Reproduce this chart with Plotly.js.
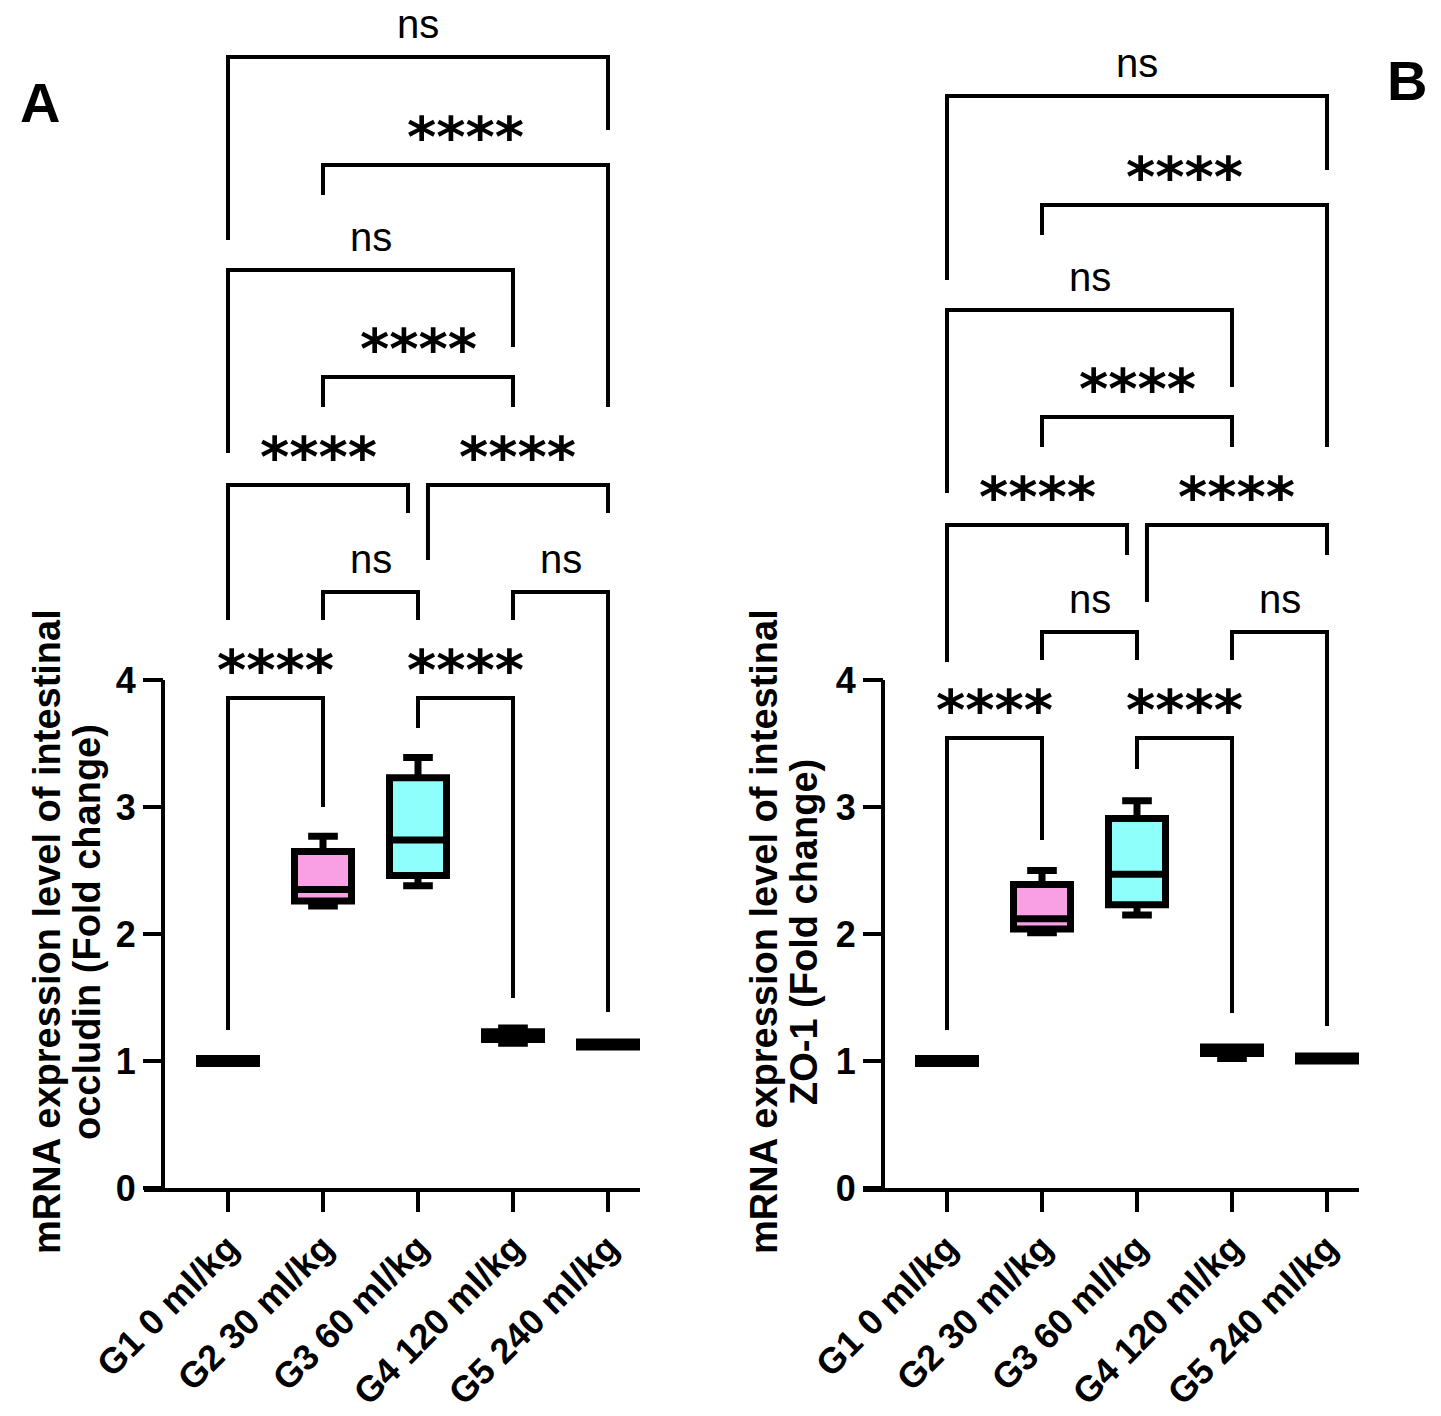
<!DOCTYPE html>
<html>
<head>
<meta charset="utf-8">
<script src="https://cdn.plot.ly/plotly-3.0.1.min.js"></script>
<style>html,body{margin:0;padding:0;background:#fff;}</style>
</head>
<body>
<div id="chart" style="width:1441px;height:1416px;"></div>
<script>
// ---------- data ----------
const groups = ["G1 0 ml/kg", "G2 30 ml/kg", "G3 60 ml/kg", "G4 120 ml/kg", "G5 240 ml/kg"];
const groupColors = ["#000000", "#f9a0e4", "#8ffffb", "#000000", "#000000"];

// Panel A: occludin (fold change) — box statistics per group
const occMin    = [0.98, 2.22, 2.38, 1.14, 1.11];
const occQ1     = [0.98, 2.26, 2.46, 1.17, 1.11];
const occMedian = [1.00, 2.35, 2.74, 1.20, 1.13];
const occQ3     = [1.02, 2.65, 3.23, 1.23, 1.15];
const occMax    = [1.02, 2.77, 3.39, 1.26, 1.15];

// Panel B: ZO-1 (fold change)
const zoMin    = [0.98, 2.01, 2.15, 1.02, 1.00];
const zoQ1     = [0.98, 2.04, 2.23, 1.06, 1.00];
const zoMedian = [1.00, 2.12, 2.47, 1.08, 1.02];
const zoQ3     = [1.02, 2.39, 2.91, 1.11, 1.04];
const zoMax    = [1.02, 2.50, 3.05, 1.11, 1.04];

const yTicks = [0, 1, 2, 3, 4];

// Multiple comparisons: [group a, group b, label]
const comparisons = [
  [0, 1, "****"], [2, 3, "****"], [1, 2, "ns"], [3, 4, "ns"],
  [0, 2, "****"], [2, 4, "****"], [1, 3, "****"], [0, 3, "ns"],
  [1, 4, "****"], [0, 4, "ns"]
];
// bracket geometry (y units): [bar height, left leg end, right leg end, left x shift, right x shift]
const bracketsA = [
  [3.858, 1.244, 3.000, 0, 0], [3.858, 3.622, 1.496, 0, 0],
  [4.693, 4.472, 4.472, 0, 0], [4.693, 4.472, 1.386, 0, 0],
  [5.535, 4.472, 5.315, 0, -0.105], [5.535, 4.945, 5.315, 0.105, 0],
  [6.386, 6.150, 6.150, 0, 0], [7.228, 5.787, 6.622, 0, 0],
  [8.055, 7.819, 6.150, 0, 0], [8.906, 7.465, 8.331, 0, 0]
];
const bracketsB = [
  [3.543, 1.244, 2.740, 0, 0], [3.543, 3.300, 1.378, 0, 0],
  [4.378, 4.157, 4.157, 0, 0], [4.378, 4.157, 1.276, 0, 0],
  [5.220, 4.142, 4.984, 0, -0.105], [5.220, 4.614, 4.984, 0.105, 0],
  [6.071, 5.835, 5.835, 0, 0], [6.913, 5.472, 6.307, 0, 0],
  [7.740, 7.504, 5.835, 0, 0], [8.598, 7.150, 8.016, 0, 0]
];

// ---------- geometry ----------
const W = 1441, H = 1416;
const FONT = "Liberation Sans, Arial, Helvetica, sans-serif";
const pxPerUnitY = 127, yZeroPx = 1188;
const yTop = yZeroPx / pxPerUnitY;
const xLow = -84 / 95, xHigh = 4 + 32 / 95;

const traces = [];
function addBoxes(xa, ya, mn, q1, md, q3, mx) {
  for (let i = 0; i < groups.length; i++) {
    traces.push({
      type: "box", xaxis: xa, yaxis: ya,
      x: [i], q1: [q1[i]], median: [md[i]], q3: [q3[i]],
      lowerfence: [mn[i]], upperfence: [mx[i]],
      width: 0.6, whiskerwidth: 0.52,
      fillcolor: groupColors[i],
      line: {color: "#000", width: 7},
      boxpoints: false, hoverinfo: "skip", showlegend: false
    });
  }
}
addBoxes("x", "y", occMin, occQ1, occMedian, occQ3, occMax);
addBoxes("x2", "y2", zoMin, zoQ1, zoMedian, zoQ3, zoMax);

const shapes = [], annotations = [];
function addBrackets(xr, yr, geo) {
  comparisons.forEach((c, k) => {
    const [a, b, lab] = c;
    const [yb, yl, yrr, sa, sb] = geo[k];
    const xa = a + sa, xb = b + sb;
    shapes.push({type: "path", xref: xr, yref: yr,
      path: `M ${xa} ${yl} L ${xa} ${yb} L ${xb} ${yb} L ${xb} ${yrr}`,
      line: {color: "#000", width: 4}});
    const isStar = lab.indexOf("*") >= 0;
    annotations.push({xref: xr, yref: yr, x: (xa + xb) / 2, y: yb,
      xanchor: "center", yanchor: "bottom", yshift: isStar ? -5 : 10, borderpad: 0,
      showarrow: false, text: lab,
      font: isStar ? {family: "DejaVu Sans", size: 56, color: "#000", weight: "bold"}
                   : {family: FONT, size: 40, color: "#000"}});
  });
}
addBrackets("x", "y", bracketsA);
addBrackets("x2", "y2", bracketsB);

// y axis lines (0..4 only)
const yAxisPxA = 163, yAxisPxB = 883;
[["y", yAxisPxA], ["y2", yAxisPxB]].forEach(([yr, px]) => {
  shapes.push({type: "line", xref: "paper", yref: yr, x0: px / W, x1: px / W,
    y0: 0, y1: 4, line: {color: "#000", width: 4}});
});

// y titles (one annotation per line)
const titleFont = {family: FONT, size: 38, color: "#000", weight: "bold"};
function titleLine(px, text) {
  annotations.push({xref: "paper", yref: "paper", x: px / W, y: 1 - 932 / H,
    xanchor: "center", yanchor: "middle", showarrow: false, textangle: -90,
    text: text, font: titleFont});
}
titleLine(47, "mRNA expression level of intestinal");
titleLine(87, "occludin (Fold change)");
titleLine(764, "mRNA expression level of intestinal");
titleLine(804, "ZO-1 (Fold change)");

// panel letters
annotations.push({xref: "paper", yref: "paper", x: 40 / W, y: 1 - 103 / H, showarrow: false,
  xanchor: "center", yanchor: "middle",
  text: "A", font: {family: FONT, size: 56, color: "#000", weight: "bold"}});
annotations.push({xref: "paper", yref: "paper", x: 1407 / W, y: 1 - 80 / H, showarrow: false,
  xanchor: "center", yanchor: "middle",
  text: "B", font: {family: FONT, size: 56, color: "#000", weight: "bold"}});

function xAxis(d0, d1, anchor) {
  return {domain: [d0 / W, d1 / W], range: [xLow, xHigh], anchor: anchor,
    showline: true, linecolor: "#000", linewidth: 4, showgrid: false, zeroline: false,
    ticks: "outside", ticklen: 20, tickwidth: 4, tickcolor: "#000",
    tickvals: [0, 1, 2, 3, 4], ticktext: groups, tickangle: -45,
    tickfont: {family: FONT, size: 36, color: "#000", weight: "bold"}, fixedrange: true};
}
function yAxis(px) {
  return {domain: [(H - yZeroPx) / H, 1], range: [0, yTop], anchor: "free", position: px / W,
    showline: false, showgrid: false, zeroline: false,
    ticks: "outside", ticklen: 20, tickwidth: 4, tickcolor: "#000",
    tickvals: yTicks, ticktext: yTicks.map(String),
    tickfont: {family: FONT, size: 36, color: "#000", weight: "bold"}, fixedrange: true};
}

const layout = {
  width: W, height: H, margin: {l: 0, r: 0, t: 0, b: 0},
  paper_bgcolor: "#fff", plot_bgcolor: "rgba(0,0,0,0)",
  boxmode: "overlay", showlegend: false,
  xaxis: xAxis(144, 640, "y"),
  yaxis: yAxis(yAxisPxA),
  xaxis2: xAxis(863, 1359, "y2"),
  yaxis2: yAxis(yAxisPxB),
  shapes: shapes, annotations: annotations
};
Plotly.newPlot("chart", traces, layout, {staticPlot: true});
</script>
</body>
</html>
